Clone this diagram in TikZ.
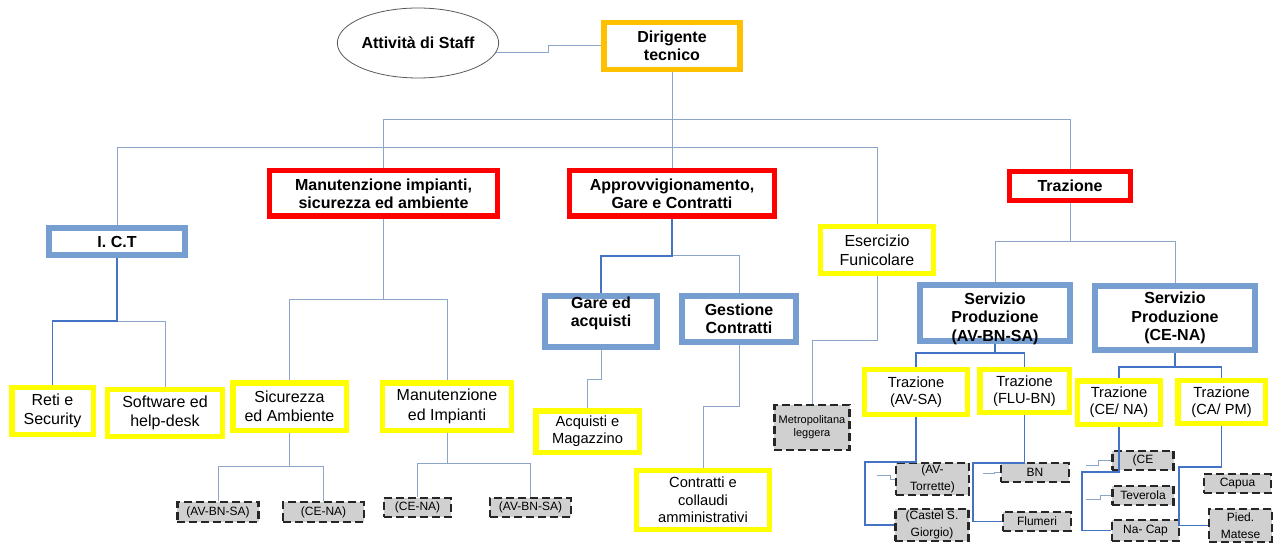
\documentclass[tikz,border=0pt]{standalone}
\usepackage{fontspec}
\setmainfont{Liberation Sans}
\usetikzlibrary{shapes}

\definecolor{boxorange}{RGB}{255,192,0}
\definecolor{boxred}{RGB}{255,0,0}
\definecolor{boxblue}{RGB}{118,158,208}
\definecolor{boxyellow}{RGB}{255,255,0}
\definecolor{boxgray}{RGB}{208,208,208}
\definecolor{linegray}{RGB}{140,166,201}
\definecolor{lineblue}{RGB}{68,114,196}

\tikzset{
  bigbold/.style={font=\fontsize{12}{13.75}\selectfont\bfseries},
  bigtext/.style={font=\fontsize{12}{14.5}\selectfont},
  midtext/.style={font=\fontsize{11}{13}\selectfont},
  smalltext/.style={font=\fontsize{9}{12.5}\selectfont},
  tinytext/.style={font=\fontsize{8.25}{9.75}\selectfont},
  unit/.style={draw, fill=white, align=center, inner sep=0pt},
  staffshape/.style={ellipse, draw=black!65, line width=0.6pt, fill=white, inner sep=0pt,
    minimum width=121pt, minimum height=52.5pt, bigbold},
  headbox/.style={unit, draw=boxorange, line width=4pt, bigbold},
  redbox/.style={unit, draw=boxred, line width=4pt, bigbold},
  bluebox/.style={unit, draw=boxblue, line width=4.5pt, bigbold},
  yellowbox/.style={unit, draw=boxyellow, line width=4pt, bigtext},
  graybox/.style={unit, draw=black!85, fill=boxgray, line width=1.8pt,
    dash pattern=on 6pt off 3pt, smalltext},
  thinline/.style={draw=linegray, line width=0.75pt},
  blueline/.style={draw=lineblue, line width=1.1pt}
}

\begin{document}
\begin{tikzpicture}[x=0.75pt,y=-0.75pt]
    \useasboundingbox (0,0) rectangle (1274,545);

    % top levels
    \node[staffshape] (staff) at (418,43) {Attività di Staff};
    \node[headbox, minimum width=102pt, minimum height=35pt] (dirig) at (672,46) {Dirigente\\tecnico};
    \node[redbox, minimum width=171pt, minimum height=34pt] (manut) at (383.5,193.5) {Manutenzione impianti,\\sicurezza ed ambiente};
    \node[redbox, minimum width=153.5pt, minimum height=34pt] (approv) at (672,193.5) {Approvvigionamento,\\Gare e Contratti};
    \node[redbox, minimum width=90.5pt, minimum height=21.5pt] (traz) at (1070,186) {Trazione};
    \node[bluebox, minimum width=102pt, minimum height=20pt] (ict) at (117,241.5) {I. C.T};
    \node[yellowbox, minimum width=84.5pt, minimum height=35pt] (eserc) at (877,250) {Esercizio\\Funicolare};

    % uffici
    \node[bluebox, minimum width=84pt, minimum height=38pt, text depth=15pt] (gare) at (601,321.5) {Gare ed\\acquisti};
    \node[bluebox, minimum width=85.5pt, minimum height=34.5pt] (gest) at (739,319) {Gestione\\Contratti};
    \node[bluebox, minimum width=112.5pt, text height=42pt, text depth=-1.5pt] (servA) at (995,313) {Servizio\\Produzione\\(AV-BN-SA)};
    \node[bluebox, minimum width=120pt, minimum height=48pt] (servC) at (1175,318) {Servizio\\Produzione\\(CE-NA)};

    \node[yellowbox, minimum width=61pt, minimum height=35pt] (reti) at (52.5,411) {Reti e\\Security};
    \node[yellowbox, minimum width=86pt, minimum height=35pt] (softw) at (165,413) {Software ed\\help-desk};
    \node[yellowbox, minimum width=85pt, minimum height=35.5pt] (sicur) at (289.5,406.5) {Sicurezza\\ed Ambiente};
    \node[yellowbox, minimum width=96.5pt, minimum height=35.5pt] (manimp) at (447,406.5) {Manutenzione\\ed Impianti};
    \node[yellowbox, midtext, minimum width=77.5pt, minimum height=31pt] (acq) at (587.5,431.5) {Acquisti e\\Magazzino};
    \node[yellowbox, midtext, minimum width=99.5pt, minimum height=44pt] (contr) at (703,500) {Contratti e\\collaudi\\amministrativi};
    \node[yellowbox, midtext, minimum width=77pt, minimum height=33.5pt] (trAV) at (916,392) {Trazione\\(AV-SA)};
    \node[yellowbox, midtext, minimum width=67pt, minimum height=32pt] (trFLU) at (1024.5,391) {Trazione\\(FLU-BN)};
    \node[yellowbox, midtext, minimum width=62pt, minimum height=32.5pt] (trCE) at (1119,402.5) {Trazione\\(CE/ NA)};
    \node[yellowbox, midtext, minimum width=65.5pt, minimum height=32pt] (trCA) at (1221.5,402) {Trazione\\(CA/ PM)};

    % sedi
    \node[graybox, minimum width=61pt, minimum height=14.7pt] (sicAV) at (218,512) {(AV-BN-SA)};
    \node[graybox, minimum width=60.5pt, minimum height=14.7pt] (sicCE) at (323.5,512) {(CE-NA)};
    \node[graybox, minimum width=50pt, minimum height=14pt] (impCE) at (417.5,507.5) {(CE-NA)};
    \node[graybox, minimum width=60.5pt, minimum height=14pt] (impAV) at (530.5,507.5) {(AV-BN-SA)};
    \node[graybox, tinytext, minimum width=56.5pt, minimum height=33.5pt] (metro) at (812,427.5) {Metropolitana\\leggera};
    \node[graybox, minimum width=54.5pt, minimum height=23.7pt] (torr) at (932.5,479) {(AV-\\Torrette)};
    \node[graybox, minimum width=55pt, minimum height=23.7pt] (castel) at (932,525) {(Castel S.\\Giorgio)};
    \node[graybox, minimum width=50.7pt, minimum height=14pt] (bn) at (1035,472.5) {BN};
    \node[graybox, minimum width=50.7pt, minimum height=14pt] (flum) at (1037,521.5) {Flumeri};
    \node[graybox, minimum width=46pt, minimum height=14pt] (ce) at (1143,460.5) {(CE};
    \node[graybox, minimum width=46pt, minimum height=14pt] (tev) at (1143,495.5) {Teverola};
    \node[graybox, minimum width=50pt, minimum height=15.5pt] (nacap) at (1145.5,530.5) {Na- Cap};
    \node[graybox, minimum width=50pt, minimum height=14pt] (capua) at (1237.5,483.5) {Capua};
    \node[graybox, minimum width=47pt, minimum height=24.4pt] (pied) at (1240.5,525.5) {Pied.\\Matese};

    \coordinate (torrtail) at (877,475);
    \coordinate (bntail) at (983,473);
    \coordinate (cetail) at (1086,465);
    \coordinate (tevtail) at (1086,499);

    % collegamenti
    \draw[thinline] (staff.-7) -- ++(52,0) |- (dirig.west);
    \draw[thinline] (dirig.south) -- (approv.north);
    \draw[thinline] (manut.north) |- (traz.north |- 0,120) -- (traz.north);
    \draw[thinline] (ict.north) |- (eserc.north |- 0,148) -- (eserc.north);

    \draw[thinline] (ict.south) |- (softw.north |- 0,321) -- (softw.north);
    \draw[blueline] (ict.south) |- (reti.north |- 0,321) -- (reti.north);

    \draw[thinline] (manut.south) -- (manut.south |- 0,300);
    \draw[thinline] (sicur.north) |- (manimp.north |- 0,300) -- (manimp.north);
    \draw[thinline] (sicur.south) -- (sicur.south |- 0,466);
    \draw[thinline] (sicAV.north) |- (sicCE.north |- 0,466) -- (sicCE.north);
    \draw[thinline] (manimp.south) -- (manimp.south |- 0,463);
    \draw[thinline] (impCE.north) |- (impAV.north |- 0,463) -- (impAV.north);

    \draw[thinline] (approv.south) |- (gest.north |- 0,256) -- (gest.north);
    \draw[blueline] (approv.south) |- (gare.north |- 0,256) -- (gare.north);
    \draw[thinline] (gare.south) |- (acq.north |- 0,379) -- (acq.north);
    \draw[thinline] (gest.south) |- (contr.north |- 0,406) -- (contr.north);
    \draw[thinline] (eserc.south) |- (metro.north |- 0,340) -- (metro.north);

    \draw[thinline] (traz.south) -- (traz.south |- 0,242);
    \draw[thinline] (servA.north) |- (servC.north |- 0,242) -- (servC.north);
    \draw[blueline] (servA.south) -- (servA.south |- 0,353);
    \draw[blueline] (trAV.north) |- (trFLU.north |- 0,353) -- (trFLU.north);
    \draw[blueline] (servC.south) -- (servC.south |- 0,367);
    \draw[blueline] (trCE.north) |- (trCA.north |- 0,367) -- (trCA.north);

    \draw[blueline] (trAV.south) |- (865,462) |- (castel.west);
    \draw[blueline] (trFLU.south) |- (973,463) |- (flum.west);
    \draw[blueline] (trCE.south) |- (1082,472) |- (nacap.west);
    \draw[blueline] (trCA.south) |- (1179,467) |- (pied.west);

    \draw[thinline] (torrtail) -- ++(13,0) |- (torr.west);
    \draw[thinline] (bntail) -- ++(11,0) |- (bn.west);
    \draw[thinline] (cetail) -- ++(12,0) |- (ce.west);
    \draw[thinline] (tevtail) -- ++(14,0) |- (tev.west);
\end{tikzpicture}
\end{document}
